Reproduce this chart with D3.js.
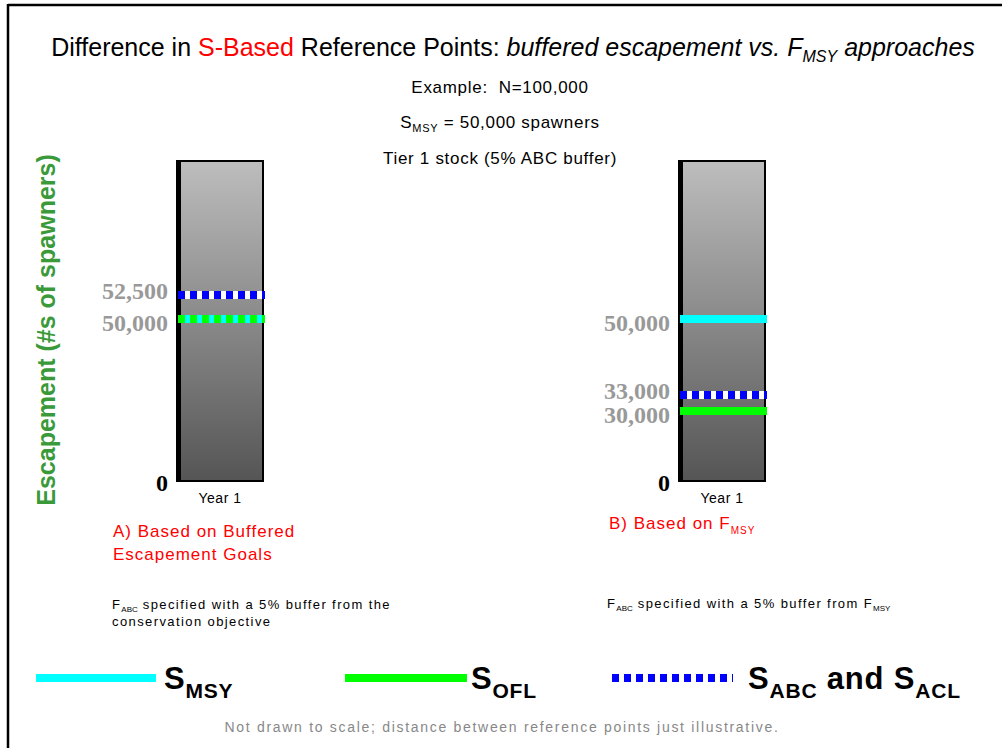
<!DOCTYPE html>
<html>
<head>
<meta charset="utf-8">
<script src="https://cdn.jsdelivr.net/npm/d3@7"></script>
<style>
html,body{margin:0;padding:0;background:#fff;}
svg{display:block;font-family:"Liberation Sans",Arial,sans-serif;}
</style>
</head>
<body>
<svg id="chart" width="1002" height="748"></svg>
<script>
// ---- data ----
const panels = ["A", "B"];
const categories = ["Year 1"];
const topValue = 100000;           // example N
const smsyValues = [50000, 50000];  // S_MSY per panel
const soflValues = [50000, 30000];  // S_OFL per panel
const sabcValues = [52500, 33000];  // S_ABC / S_ACL per panel
const tickLabelsA = [0, 50000, 52500];
const tickLabelsB = [0, 30000, 33000, 50000];
const panelCaptions = [["A) Based on Buffered", "Escapement Goals"], ["B) Based on F", "MSY"]];

const svg = d3.select("#chart");
const W = 1002, H = 748;

// frame lines
svg.append("line").attr("x1", 8).attr("x2", W).attr("y1", 5).attr("y2", 5).attr("stroke", "#000").attr("stroke-width", 2.5);
svg.append("line").attr("x1", 8).attr("x2", 8).attr("y1", 4).attr("y2", H).attr("stroke", "#000").attr("stroke-width", 2.5);

// scales (not drawn to scale: piecewise illustrative mapping)
const y = d3.scaleLinear()
  .domain([0, 30000, 33000, 50000, 52500, topValue])
  .range([481, 411, 395, 319, 295, 161]);
const xPanel = d3.scalePoint().domain(panels).range([220, 722]);
const barW = 86;

// gradient
const defs = svg.append("defs");
const grad = defs.append("linearGradient").attr("id", "barGrad").attr("x1", 0).attr("x2", 0).attr("y1", 0).attr("y2", 1);
grad.append("stop").attr("offset", "0%").attr("stop-color", "#bdbdbd");
grad.append("stop").attr("offset", "100%").attr("stop-color", "#555555");

const fmt = d3.format(",");

panels.forEach((p, i) => {
  const cx = xPanel(p);
  const x0 = cx - barW / 2;
  const g = svg.append("g");
  // bar
  g.append("rect").attr("x", x0).attr("y", y(topValue)).attr("width", barW).attr("height", y(0) - y(topValue))
    .attr("fill", "url(#barGrad)").attr("stroke", "#000").attr("stroke-width", 2);
  g.append("rect").attr("x", x0 - 1).attr("y", y(topValue) - 1).attr("width", 5).attr("height", y(0) - y(topValue) + 2)
    .attr("fill", "#000");

  // reference lines
  const xl1 = x0 + 1, xl2 = x0 + barW + 2;
  const hline = (v, color, w, dash) => {
    const l = g.append("line").attr("x1", xl1).attr("x2", xl2).attr("y1", y(v)).attr("y2", y(v))
      .attr("stroke", color).attr("stroke-width", w);
    if (dash) l.attr("stroke-dasharray", dash);
    return l;
  };
  hline(smsyValues[i], "#00ffff", 8);
  if (soflValues[i] === smsyValues[i]) hline(soflValues[i], "#00ff00", 8, "7,5");
  else hline(soflValues[i], "#00ff00", 8);
  hline(sabcValues[i], "#ffffff", 8);
  hline(sabcValues[i], "#0000ff", 8, "7,5");

  // tick labels
  const ticks = i === 0 ? tickLabelsA : tickLabelsB;
  const yAxis = d3.axisLeft(y).tickValues(ticks).tickSize(0).tickPadding(0).tickFormat(fmt);
  const ag = g.append("g").attr("transform", `translate(${x0 - 9},0)`).call(yAxis);
  ag.select(".domain").remove();
  // spread close labels apart (upper one up, lower one down)
  const sorted = ticks.slice().sort((a, b) => a - b);
  ag.selectAll("text")
    .attr("font-family", "'Liberation Serif','Times New Roman',serif")
    .attr("font-weight", "bold").attr("font-size", 24)
    .attr("fill", d => d === 0 ? "#000" : "#999")
    .attr("dy", "0.34em")
    .attr("y", d => {
      const k = sorted.indexOf(d);
      if (d === 0) return 1;
      const next = sorted[k + 1];
      if (next !== undefined && Math.abs(y(next) - y(d)) < 30) return 3;
      if (k > 0 && sorted[k - 1] !== 0 && Math.abs(y(sorted[k - 1]) - y(d)) < 30) return -5;
      return 3;
    });

  // category label
  const xb = d3.scaleBand().domain(categories).range([x0, x0 + barW]);
  categories.forEach(c => {
    g.append("text").attr("x", xb(c) + xb.bandwidth() / 2).attr("y", 503).attr("text-anchor", "middle")
      .attr("font-size", 14).attr("letter-spacing", 0.5).attr("fill", "#000").text(c);
  });
});

// y axis title
svg.append("text").attr("transform", "translate(55,330) rotate(-90)").attr("text-anchor", "middle")
  .attr("font-size", 25).attr("font-weight", "bold").attr("fill", "#3a9a3a")
  .text("Escapement (#s of spawners)");

// title
const title = svg.append("text").attr("x", 513).attr("y", 56).attr("text-anchor", "middle").attr("font-size", 25).attr("fill", "#000");
title.append("tspan").text("Difference in ");
title.append("tspan").attr("fill", "#ff0000").text("S-Based");
title.append("tspan").text(" Reference Points: ");
title.append("tspan").attr("font-style", "italic").text("buffered escapement vs. F");
title.append("tspan").attr("font-style", "italic").attr("font-size", 16).attr("dy", 6).text("MSY");
title.append("tspan").attr("font-style", "italic").attr("dy", -6).text(" approaches");

// subtitle lines
const subAttrs = sel => sel.attr("x", 500).attr("text-anchor", "middle").attr("font-size", 17).attr("letter-spacing", 0.7);
subAttrs(svg.append("text").attr("y", 93).attr("xml:space", "preserve")).text("Example:  N=100,000");
const s2 = subAttrs(svg.append("text").attr("y", 128));
s2.append("tspan").text("S");
s2.append("tspan").attr("font-size", 11).attr("dy", 4).text("MSY");
s2.append("tspan").attr("dy", -4).text(" = 50,000 spawners");
subAttrs(svg.append("text").attr("y", 164)).text("Tier 1 stock (5% ABC buffer)");

// panel captions
const capAttrs = sel => sel.attr("font-size", 17).attr("letter-spacing", 1).attr("fill", "#ff0000");
capAttrs(svg.append("text").attr("x", 113).attr("y", 537)).text(panelCaptions[0][0]);
capAttrs(svg.append("text").attr("x", 113).attr("y", 560)).text(panelCaptions[0][1]);
const cb = capAttrs(svg.append("text").attr("x", 609).attr("y", 529));
cb.append("tspan").text(panelCaptions[1][0]);
cb.append("tspan").attr("font-size", 10).attr("dy", 5).text(panelCaptions[1][1]);

// notes
const noteAttrs = sel => sel.attr("font-size", 13).attr("letter-spacing", 1.4).attr("fill", "#000");
const n1 = noteAttrs(svg.append("text").attr("x", 112).attr("y", 609));
n1.append("tspan").text("F");
n1.append("tspan").attr("font-size", 8).attr("dy", 3).attr("letter-spacing", 0).text("ABC");
n1.append("tspan").attr("dy", -3).text(" specified with a 5% buffer from the");
noteAttrs(svg.append("text").attr("x", 112).attr("y", 626)).text("conservation objective");
const n2 = noteAttrs(svg.append("text").attr("x", 607).attr("y", 608));
n2.append("tspan").text("F");
n2.append("tspan").attr("font-size", 8).attr("dy", 3).attr("letter-spacing", 0).text("ABC");
n2.append("tspan").attr("dy", -3).text(" specified with a 5% buffer from F");
n2.append("tspan").attr("font-size", 8).attr("dy", 3).attr("letter-spacing", 0).text("MSY");

// legend
const legendItems = [
  {x1: 36, x2: 156, color: "#00ffff", dash: null, tx: 164, parts: [["S", 0], ["MSY", 1]]},
  {x1: 345, x2: 467, color: "#00ff00", dash: null, tx: 471, parts: [["S", 0], ["OFL", 1]]},
  {x1: 612, x2: 733, color: "#0000ff", dash: "7,5", tx: 748, parts: [["S", 0], ["ABC", 1], [" and S", 0], ["ACL", 1]]}
];
legendItems.forEach(it => {
  const l = svg.append("line").attr("x1", it.x1).attr("x2", it.x2).attr("y1", 678).attr("y2", 678)
    .attr("stroke", it.color).attr("stroke-width", 8);
  if (it.dash) l.attr("stroke-dasharray", it.dash);
  const t = svg.append("text").attr("x", it.tx).attr("y", 689).attr("font-weight", "bold").attr("font-size", 31)
    .attr("letter-spacing", 0.8).attr("fill", "#000").attr("xml:space", "preserve");
  let prevSub = 0;
  it.parts.forEach(([s, sub]) => {
    const ts = t.append("tspan").text(s).attr("font-size", sub ? 21 : 31);
    ts.attr("dy", (sub ? 9 : 0) - (prevSub ? 9 : 0));
    prevSub = sub;
  });
});

// footer
svg.append("text").attr("x", 502).attr("y", 732).attr("text-anchor", "middle").attr("font-size", 14).attr("letter-spacing", 1.7).attr("fill", "#888")
  .text("Not drawn to scale; distance between reference points just illustrative.");
</script>
</body>
</html>
